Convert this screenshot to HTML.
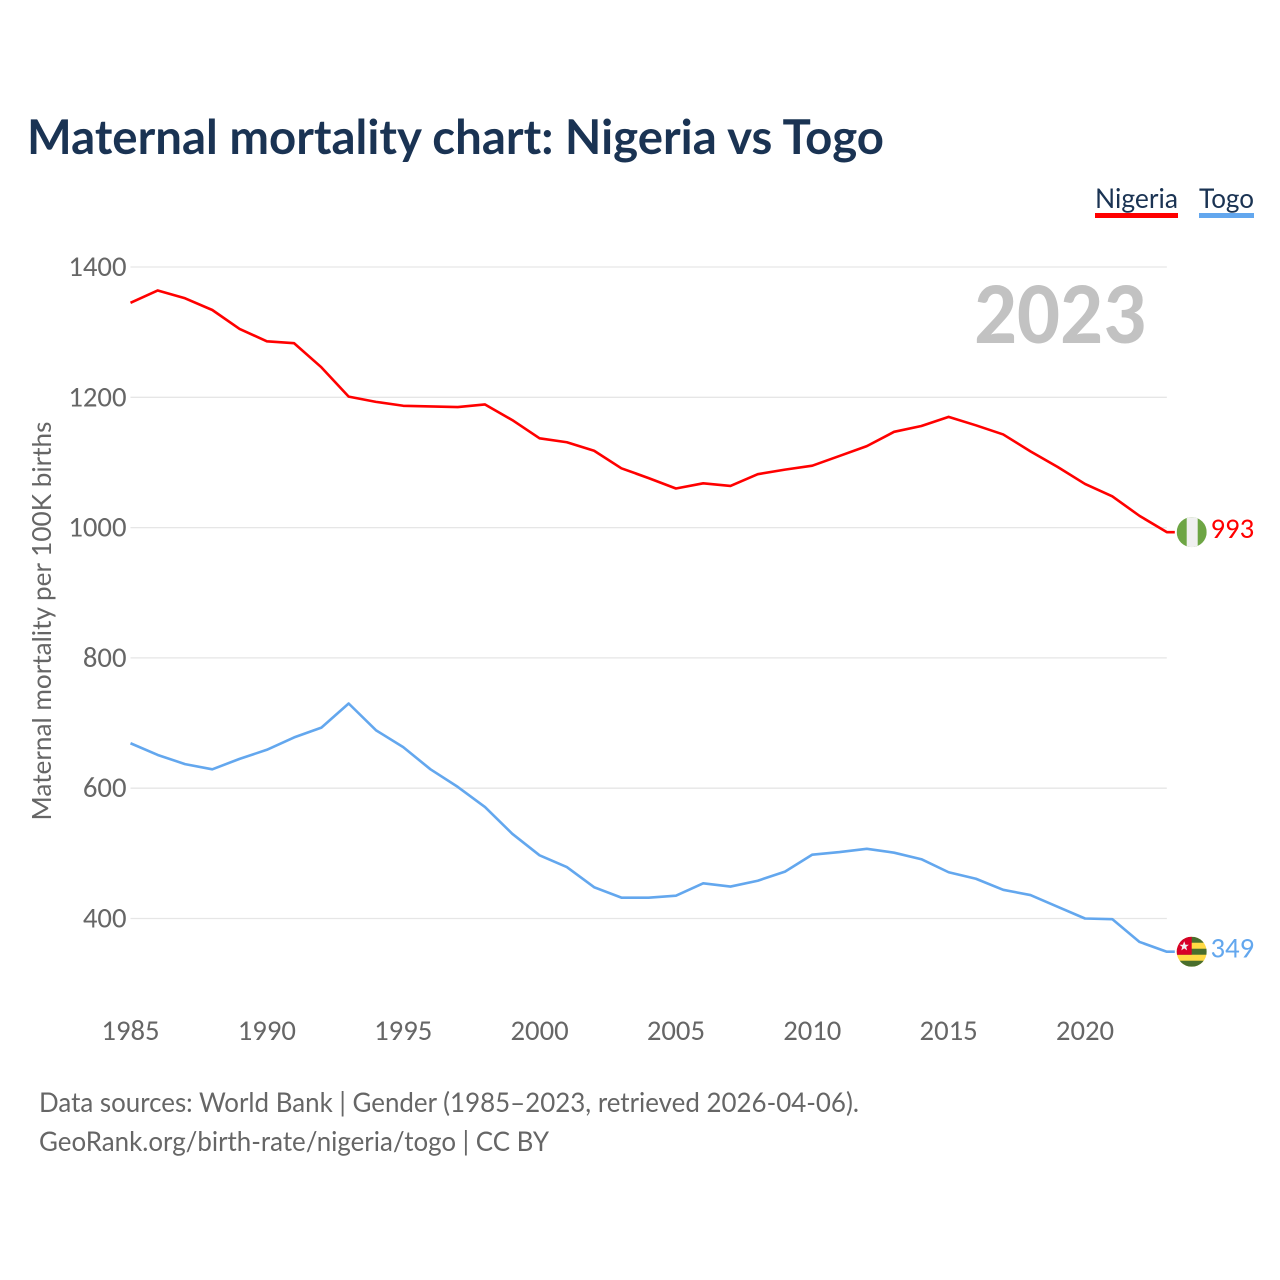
<!DOCTYPE html>
<html lang="en">
<head>
<meta charset="utf-8">
<title>Maternal mortality chart: Nigeria vs Togo</title>
<style>
html,body{margin:0;padding:0;background:#fff}
svg{display:block}
text{font-family:"Lato","Carlito","Liberation Sans",sans-serif}
text.num{font-family:"Carlito","Lato","Liberation Sans",sans-serif}
</style>
</head>
<body>
<svg id="chart" xmlns="http://www.w3.org/2000/svg" width="1280" height="1280" viewBox="0 0 1280 1280">
  <rect width="1280" height="1280" fill="#ffffff"/>
  <text x="27" y="154" font-size="48" font-weight="700" fill="#1a3353" textLength="857" lengthAdjust="spacingAndGlyphs">Maternal mortality chart: Nigeria vs Togo</text>
  <g id="grid"></g>
  <g id="yticks"></g>
  <g id="xticks"></g>
  <text transform="translate(51,621) rotate(-90)" text-anchor="middle" font-size="26" fill="#666666" textLength="399" lengthAdjust="spacingAndGlyphs">Maternal mortality per 100K births</text>
  <text class="num" x="1146" y="343" text-anchor="end" font-size="88" font-weight="700" fill="#c2c2c2" textLength="172" lengthAdjust="spacingAndGlyphs">2023</text>
  <g id="series"></g>

  <g>
    <text x="1095" y="208" font-size="27" fill="#1a3353" textLength="83" lengthAdjust="spacingAndGlyphs">Nigeria</text>
    <rect x="1095" y="213" width="83" height="5" fill="#ff0000"/>
  </g>
  <g>
    <text x="1199" y="208" font-size="27" fill="#1a3353" textLength="55" lengthAdjust="spacingAndGlyphs">Togo</text>
    <rect x="1199" y="213" width="55" height="5" fill="#63a7ee"/>
  </g>

  <defs>
    <clipPath id="flag-clip-ng"><circle id="ng-clip-circle" cx="0" cy="0" r="15"/></clipPath>
    <clipPath id="flag-clip-tg"><circle id="tg-clip-circle" cx="0" cy="0" r="15"/></clipPath>
  </defs>
  <g id="flag-ng">
    <g clip-path="url(#flag-clip-ng)">
      <rect x="-15" y="-15" width="30" height="30" fill="#6da544"/>
      <rect x="-5" y="-15" width="11" height="30" fill="#f0f0f0"/>
    </g>
  </g>
  <g id="flag-tg">
    <g clip-path="url(#flag-clip-tg)">
      <rect x="-15" y="-15" width="30" height="30" fill="#ffda44"/>
      <rect x="-15" y="-15" width="30" height="6" fill="#496e2d"/>
      <rect x="-15" y="-3" width="30" height="6" fill="#496e2d"/>
      <rect x="-15" y="9" width="30" height="6" fill="#496e2d"/>
      <rect x="-15" y="-15" width="15" height="18" fill="#d80027"/>
      <polygon points="-7.5,-10.5 -6.2,-7 -2.8,-7 -5.5,-4.8 -4.6,-1.4 -7.5,-3.4 -10.4,-1.4 -9.5,-4.8 -12.2,-7 -8.8,-7" fill="#f0f0f0"/>
    </g>
  </g>
  <text class="num" id="value-ng" x="1210.5" text-anchor="start" font-size="28.7" fill="#ff0000"></text>
  <text class="num" id="value-tg" x="1210.5" text-anchor="start" font-size="28.7" fill="#63a7ee"></text>

  <text x="39" y="1112" font-size="27" fill="#666666" textLength="820" lengthAdjust="spacingAndGlyphs">Data sources: World Bank | Gender (1985–2023, retrieved 2026-04-06).</text>
  <text x="39" y="1151" font-size="27" fill="#666666" textLength="510" lengthAdjust="spacingAndGlyphs">GeoRank.org/birth-rate/nigeria/togo | CC BY</text>
</svg>
<script>
const years = [1985,1986,1987,1988,1989,1990,1991,1992,1993,1994,1995,1996,1997,1998,1999,2000,2001,2002,2003,2004,2005,2006,2007,2008,2009,2010,2011,2012,2013,2014,2015,2016,2017,2018,2019,2020,2021,2022,2023];
const nigeria = [1345,1364,1352,1334,1305,1286,1283,1246,1201,1193,1187,1186,1185,1189,1165,1137,1131,1118,1091,1076,1060,1068,1064,1082,1089,1095,1110,1125,1147,1156,1170,1157,1143,1117,1093,1067,1048,1018,993];
const togo = [669,651,637,629,645,659,678,693,730,689,663,629,602,571,530,497,479,448,432,432,435,454,449,458,472,498,502,507,501,491,471,461,444,436,418,400,399,364,349];
const yTickValues = [400,600,800,1000,1200,1400];
const xTickValues = [1985,1990,1995,2000,2005,2010,2015,2020];

const NS = 'http://www.w3.org/2000/svg';
function xScale(year){ return 130.5 + (year - 1985) * (1085 - 130.5) / 35; }
function yScale(v){ return 918.5 - (v - 400) * (918.5 - 267) / 1000; }

const grid = document.getElementById('grid');
const yticks = document.getElementById('yticks');
const xticks = document.getElementById('xticks');
const series = document.getElementById('series');

yTickValues.forEach(function(v){
  const line = document.createElementNS(NS,'line');
  
  
  line.setAttribute('x1', xScale(1985));
  line.setAttribute('x2', xScale(2023));
  line.setAttribute('y1', yScale(v));
  line.setAttribute('y2', yScale(v));
  line.setAttribute('stroke', '#e6e6e6');
  line.setAttribute('stroke-width', '1.3');
  grid.appendChild(line);
  const t = document.createElementNS(NS,'text');
  
  
  t.setAttribute('class', 'num');
  t.setAttribute('x', 126.5);
  t.setAttribute('y', yScale(v) + 9);
  t.setAttribute('text-anchor', 'end');
  t.setAttribute('font-size', '28.7');
  t.setAttribute('fill', '#666666');
  t.textContent = v;
  yticks.appendChild(t);
});

xTickValues.forEach(function(y){
  const t = document.createElementNS(NS,'text');
  
  
  t.setAttribute('class', 'num');
  t.setAttribute('x', xScale(y));
  t.setAttribute('y', 1040);
  t.setAttribute('text-anchor', 'middle');
  t.setAttribute('font-size', '28.7');
  t.setAttribute('fill', '#666666');
  t.textContent = y;
  xticks.appendChild(t);
});

function drawLine(values, color, name){
  const pts = values.map(function(v,i){ return xScale(years[i]).toFixed(2) + ',' + yScale(v).toFixed(2); });
  const last = values[values.length - 1];
  pts.push((xScale(years[years.length - 1]) + 8).toFixed(2) + ',' + yScale(last).toFixed(2));
  const p = document.createElementNS(NS,'polyline');
  
  
  p.setAttribute('points', pts.join(' '));
  p.setAttribute('fill', 'none');
  p.setAttribute('stroke', color);
  p.setAttribute('stroke-width', '2.6');
  p.setAttribute('stroke-linejoin', 'round');
  series.appendChild(p);
}
drawLine(nigeria, '#ff0000', 'nigeria-line');
drawLine(togo, '#63a7ee', 'togo-line');

function placeEnd(flagId, valueId, values){
  const last = values[values.length - 1];
  const yy = yScale(last);
  document.getElementById(flagId).setAttribute('transform', 'translate(1191.7,' + yy + ')');
  const label = document.getElementById(valueId);
  label.setAttribute('y', yy + 6);
  label.textContent = last;
}
placeEnd('flag-ng', 'value-ng', nigeria);
placeEnd('flag-tg', 'value-tg', togo);
</script>
</body>
</html>
